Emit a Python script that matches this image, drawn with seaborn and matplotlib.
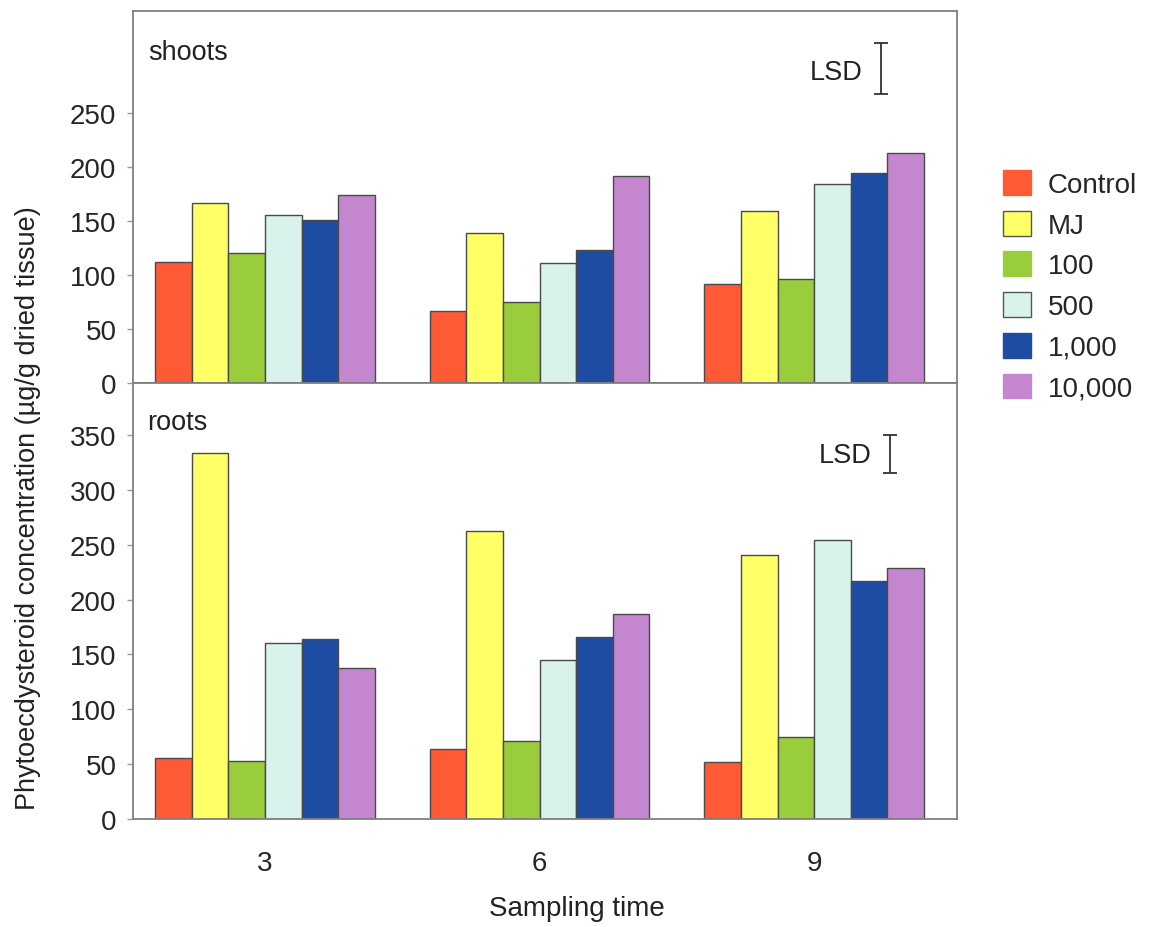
import pandas as pd
import numpy as np
import matplotlib
matplotlib.use("Agg")
import matplotlib.pyplot as plt
import seaborn as sns

# Data
times = ["3", "6", "9"]
treatments = ["Control", "MJ", "100", "500", "1,000", "10,000"]
colors = ["#FF5A36", "#FFFF66", "#9ACD3C", "#D8F3EC", "#1E4CA2", "#C586D0"]

# shoots, one list per sampling time (order = treatments)
shoots_t3 = [112, 166, 120, 155, 151, 174]
shoots_t6 = [67, 139, 75, 111, 123, 191]
shoots_t9 = [92, 159, 96, 184, 194, 213]

# roots
roots_t3 = [56, 334, 53, 160, 164, 138]
roots_t6 = [64, 263, 71, 145, 166, 187]
roots_t9 = [52, 241, 75, 254, 217, 229]

lsd_shoots = 47
lsd_roots = 35


def to_long(rows):
    recs = []
    for t, vals in zip(times, rows):
        for tr, v in zip(treatments, vals):
            recs.append({"time": t, "treatment": tr, "value": v})
    return pd.DataFrame(recs)


shoots = to_long([shoots_t3, shoots_t6, shoots_t9])
roots = to_long([roots_t3, roots_t6, roots_t9])

sns.set_style("white")
plt.rcParams["font.family"] = ["Liberation Sans", "DejaVu Sans"]

fig = plt.figure(figsize=(11.5, 9.28), dpi=100)
ax1 = fig.add_axes([0.1157, 0.5862, 0.7165, 0.4009])
ax2 = fig.add_axes([0.1157, 0.1164, 0.7165, 0.4698])

for ax, df in [(ax1, shoots), (ax2, roots)]:
    sns.barplot(data=df, x="time", y="value", hue="treatment",
                hue_order=treatments, palette=colors, saturation=1,
                edgecolor="#4a4a4a", linewidth=1, ax=ax, legend=False,
                width=0.8)
    ax.set_xlim(-0.48, 2.52)
    ax.set_xlabel("")
    ax.set_ylabel("")
    for s in ax.spines.values():
        s.set_color("#808080")
        s.set_linewidth(1.3)
    ax.tick_params(axis="y", direction="out", length=4, width=1,
                   color="#999999", pad=8, labelsize=20, left=True)
    ax.set_xticks([0.5, 1.5], minor=True)
    ax.tick_params(axis="x", which="major", length=0)
    ax.tick_params(axis="x", which="minor", length=4, color="#bbbbbb",
                   direction="out")

ax1.set_ylim(0, 344)
ax1.set_yticks(range(0, 251, 50))
ax1.set_xticklabels([])
ax1.spines["bottom"].set_color("#555555")

ax2.set_ylim(0, 397.5)
ax2.set_yticks(range(0, 351, 50))
ax2.set_xticklabels(times)
ax2.tick_params(axis="x", which="major", labelsize=20, pad=22)

ax1.text(0.018, 0.925, "shoots", transform=ax1.transAxes, fontsize=19.5,
         va="top", ha="left", color="#222222")
ax2.text(0.017, 0.94, "roots", transform=ax2.transAxes, fontsize=19.5,
         va="top", ha="left", color="#222222")

# LSD bars
ax1.errorbar(2.245, 291, yerr=lsd_shoots / 2, fmt="none", ecolor="#333333",
             elinewidth=1.3, capsize=5, capthick=1.3)
ax1.text(2.175, 288, "LSD", fontsize=19.5, ha="right", va="center",
         color="#222222")
ax2.errorbar(2.277, 333, yerr=lsd_roots / 2, fmt="none", ecolor="#333333",
             elinewidth=1.3, capsize=5, capthick=1.3)
ax2.text(2.207, 332, "LSD", fontsize=19.5, ha="right", va="center",
         color="#222222")

fig.text(0.024, 0.452, "Phytoecdysteroid concentration (\u00b5g/g dried tissue)",
         rotation=90, ha="center", va="center", fontsize=19.5, color="#222222")
fig.text(0.502, 0.007, "Sampling time", ha="center", va="bottom",
         fontsize=20, color="#222222")

handles = [plt.Rectangle((0, 0), 1, 1, facecolor=c,
                         edgecolor=("#555555" if c in ("#FFFF66", "#D8F3EC") else c),
                         linewidth=1) for c in colors]
fig.legend(handles, treatments, loc="upper left",
           bbox_to_anchor=(1003 / 1150, 1 - 171 / 928), frameon=False,
           fontsize=20, handlelength=1.0, handleheight=1.0,
           handletextpad=0.6, labelspacing=0.46, borderpad=0,
           borderaxespad=0)

fig.savefig("out.png", dpi=100)
